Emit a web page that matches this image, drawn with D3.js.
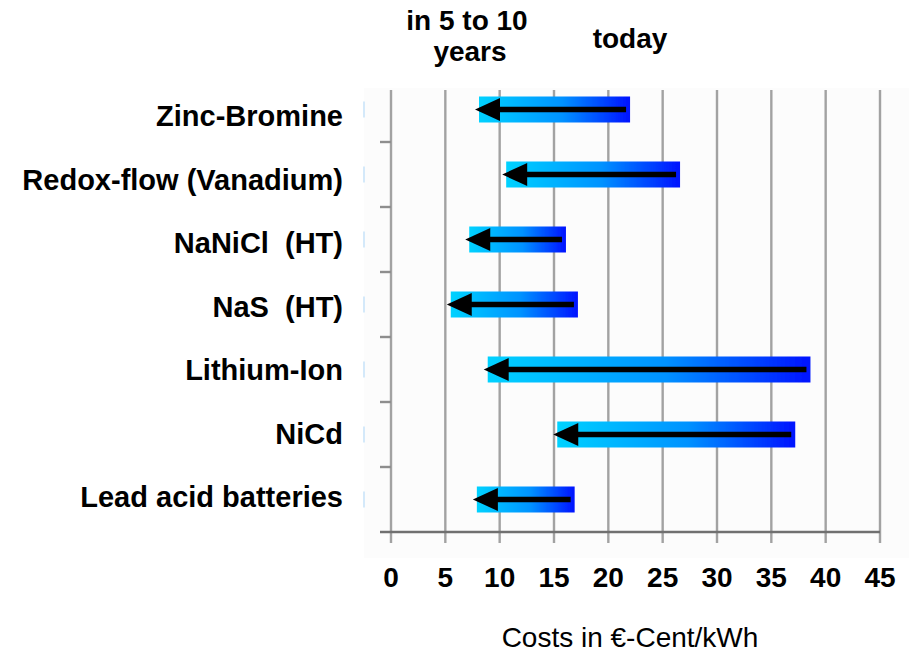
<!DOCTYPE html>
<html>
<head>
<meta charset="utf-8">
<script src="https://cdn.jsdelivr.net/npm/d3@7"></script>
<style>
    body { margin: 0; background: #ffffff; }
    text { font-family: "Liberation Sans", Arial, sans-serif; fill: #000; }
</style>
</head>
<body>
<svg id="chart" width="909" height="652" viewBox="0 0 909 652"></svg>
<script>
// battery storage costs, €-Cent/kWh
let categories = ["Zinc-Bromine", "Redox-flow (Vanadium)", "NaNiCl  (HT)", "NaS  (HT)",
    "Lithium-Ion", "NiCd", "Lead acid batteries"]
let costToday = [22.0, 26.6, 16.1, 17.2, 38.6, 37.2, 16.9]
let costFuture = [8.1, 10.6, 7.2, 5.5, 8.9, 15.3, 7.9]
let xTicks = [0, 5, 10, 15, 20, 25, 30, 35, 40, 45]

let data = categories.map(function (c, i) {
    return {name: c, today: costToday[i], future: costFuture[i]}
})

let svg = d3.select('#chart')
let x = d3.scaleLinear().domain([0, 45]).range([391, 880])
let y = d3.scaleBand().domain(categories).range([77, 532]).padding(0)
// labels sit on a slightly tighter spacing than the bars
let yLabel = d3.scalePoint().domain(categories).range([116, 497])
let barH = 26

let defs = svg.append('defs')
let grad = defs.append('linearGradient').attr('id', 'barGrad')
grad.append('stop').attr('offset', '0%').attr('stop-color', '#00d2ff')
grad.append('stop').attr('offset', '55%').attr('stop-color', '#0092ff')
grad.append('stop').attr('offset', '100%').attr('stop-color', '#0412ff')
defs.append('filter').attr('id', 'soft')
    .attr('x', '-5%').attr('y', '-20%').attr('width', '110%').attr('height', '140%')
    .append('feGaussianBlur').attr('stdDeviation', 0.6)

// plot background
svg.append('rect')
    .attr('x', 364).attr('y', 88)
    .attr('width', 909 - 364).attr('height', 470)
    .attr('fill', '#fcfcfc')

// vertical grid lines, running down past the axis as tick marks
svg.append('g')
    .selectAll('line')
    .data(xTicks)
    .enter()
    .append('line')
    .attr('x1', function (d) { return x(d) })
    .attr('x2', function (d) { return x(d) })
    .attr('y1', 90)
    .attr('y2', 543)
    .attr('stroke', '#a2a2a2')
    .attr('stroke-width', 2.4)

// x axis line
svg.append('line')
    .attr('x1', 380).attr('x2', x(45))
    .attr('y1', y.range()[1]).attr('y2', y.range()[1])
    .attr('stroke', '#707070')
    .attr('stroke-width', 2.4)

// y axis ticks between categories
svg.append('g')
    .selectAll('line')
    .data(categories.slice(1))
    .enter()
    .append('line')
    .attr('x1', 380).attr('x2', x(0))
    .attr('y1', function (d) { return y(d) })
    .attr('y2', function (d) { return y(d) })
    .attr('stroke', '#8e8e8e')
    .attr('stroke-width', 2.4)

// faint blue marks left of the axis
svg.append('g')
    .selectAll('rect')
    .data(data)
    .enter()
    .append('rect')
    .attr('x', 363)
    .attr('y', function (d) { return y(d.name) + y.bandwidth() / 2 - 8 })
    .attr('width', 2)
    .attr('height', 16)
    .attr('fill', '#d4e9fa')

// bars
let rows = svg.append('g')
    .selectAll('g')
    .data(data)
    .enter()
    .append('g')
    .attr('transform', function (d) {
        return `translate(0,${y(d.name) + y.bandwidth() / 2})`
    })

rows.append('rect')
    .attr('x', function (d) { return x(d.future) })
    .attr('y', -barH / 2)
    .attr('width', function (d) { return x(d.today) - x(d.future) })
    .attr('height', barH)
    .attr('fill', 'url(#barGrad)')
    .attr('filter', 'url(#soft)')

// arrows from today to future
rows.append('line')
    .attr('x1', function (d) { return x(d.today) - 4 })
    .attr('x2', function (d) { return x(d.future) + 10 })
    .attr('y1', 0).attr('y2', 0)
    .attr('stroke', '#000')
    .attr('stroke-width', 5.5)

rows.append('path')
    .attr('d', function (d) {
        let tip = x(d.future) - 4
        return `M${tip},0 L${tip + 25},-11.5 L${tip + 25},11.5 Z`
    })
    .attr('fill', '#000')

// category labels
svg.append('g')
    .selectAll('text')
    .data(categories)
    .enter()
    .append('text')
    .attr('x', 343)
    .attr('y', function (d) { return yLabel(d) + 10 })
    .attr('text-anchor', 'end')
    .style('font-size', '29px')
    .style('font-weight', 'bold')
    .style('white-space', 'pre')
    .text(function (d) { return d })

// tick labels
svg.append('g')
    .selectAll('text')
    .data(xTicks)
    .enter()
    .append('text')
    .attr('x', function (d) { return x(d) })
    .attr('y', 587)
    .attr('text-anchor', 'middle')
    .style('font-size', '28px')
    .style('font-weight', 'bold')
    .text(function (d) { return d })

svg.append('text')
    .attr('x', 630).attr('y', 647)
    .attr('text-anchor', 'middle')
    .style('font-size', '28px')
    .text('Costs in €-Cent/kWh')

// column headers
let head = svg.append('g')
    .style('font-size', '28px')
    .style('font-weight', 'bold')
    .attr('text-anchor', 'middle')
let future = head.append('text').attr('x', 467).attr('y', 30)
future.append('tspan').attr('x', 467).text('in 5 to 10')
future.append('tspan').attr('x', 470).attr('dy', 31).text('years')
head.append('text').attr('x', 630).attr('y', 48).text('today')
</script>
</body>
</html>
